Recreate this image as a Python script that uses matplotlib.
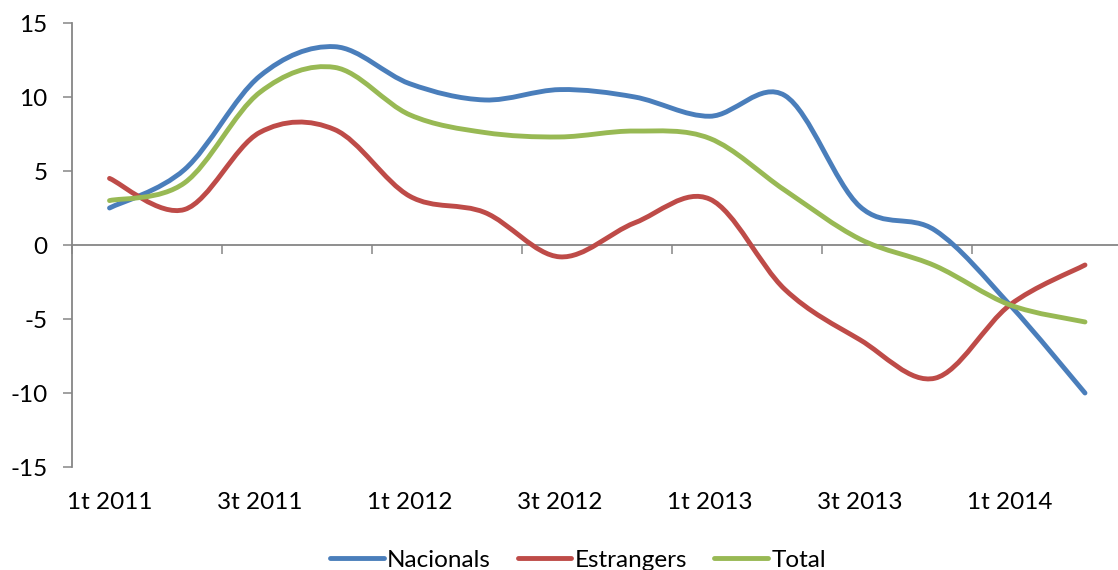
import matplotlib.pyplot as plt
import numpy as np
from matplotlib.path import Path
from matplotlib.patches import PathPatch
from matplotlib.lines import Line2D

quarters = ['1t 2011', '2t 2011', '3t 2011', '4t 2011',
            '1t 2012', '2t 2012', '3t 2012', '4t 2012',
            '1t 2013', '2t 2013', '3t 2013', '4t 2013',
            '1t 2014', '2t 2014']
nacionals = [2.5, 5.1, 11.4, 13.4, 10.9, 9.8, 10.5, 10.0, 8.7, 10.1, 2.6, 1.0, -4.05, -10.0]
estrangers = [4.5, 2.4, 7.6, 7.8, 3.3, 2.2, -0.8, 1.5, 3.1, -3.0, -6.4, -9.0, -4.05, -1.35]
total = [3.0, 4.2, 10.3, 12.0, 8.8, 7.6, 7.3, 7.7, 7.2, 3.7, 0.4, -1.4, -4.05, -5.2]

series = [('Nacionals', nacionals, '#4A7EBB'),
          ('Estrangers', estrangers, '#BE4B48'),
          ('Total', total, '#98B954')]


def smooth_path(x, y):
    # Excel style smoothed line: bezier segments, control points from neighbours
    pts = np.column_stack([x, y]).astype(float)
    ext = np.vstack([pts[0], pts, pts[-1]])
    verts = [pts[0]]
    codes = [Path.MOVETO]
    for i in range(len(pts) - 1):
        p0, p1, p2, p3 = ext[i], ext[i + 1], ext[i + 2], ext[i + 3]
        verts += [p1 + (p2 - p0) / 6, p2 - (p3 - p1) / 6, p2]
        codes += [Path.CURVE4] * 3
    return Path(verts, codes)


plt.rcParams['font.family'] = ['Lato', 'DejaVu Sans']
fs = 17.5
axis_col = '#868686'
fig = plt.figure(figsize=(11.18, 5.70), dpi=100)
ax = fig.add_axes([72 / 1118, 103 / 570, (1122.5 - 72) / 1118, 444 / 570])

x = np.arange(len(quarters))
for name, vals, col in series:
    ax.add_patch(PathPatch(smooth_path(x, vals), fill=False, edgecolor=col,
                           lw=3.5, capstyle='round', joinstyle='round', zorder=3))

ax.set_xlim(-0.5, 13.5)
ax.set_ylim(-15, 15)
ax.set_yticks([-15, -10, -5, 0, 5, 10, 15])
ax.set_yticklabels(['-15', '-10', '-5', '0', '5', '10', '15'])
ax.tick_params(axis='y', direction='out', length=6.5, width=1.1, color=axis_col,
               pad=11, labelsize=fs)

ax.set_xticks(x[::2])
ax.set_xticklabels(quarters[::2])
ax.tick_params(axis='x', length=0, pad=18, labelsize=fs)

for s in ['top', 'right', 'bottom']:
    ax.spines[s].set_visible(False)
ax.spines['left'].set_color(axis_col)
ax.spines['left'].set_linewidth(1.3)

# horizontal axis line at zero with downward tick marks
sec = ax.secondary_xaxis(0.5)
sec.set_xticks(np.arange(-0.5, 14, 2))
sec.xaxis.set_ticks_position('bottom')
sec.tick_params(axis='x', which='both', direction='out', length=6.5, width=1.1,
                color=axis_col, labeltop=False, labelbottom=False)
for s in sec.spines.values():
    s.set_color(axis_col)
    s.set_linewidth(1.3)

handles = [Line2D([], [], color=col, lw=3.5, solid_capstyle='round') for _, _, col in series]
fig.legend(handles, [s[0] for s in series], loc='center', bbox_to_anchor=(0.517, 0.017),
           ncol=3, frameon=False, fontsize=fs, handlelength=2.2, handletextpad=0.15,
           columnspacing=1.1)

fig.savefig('out.png', dpi=100)
